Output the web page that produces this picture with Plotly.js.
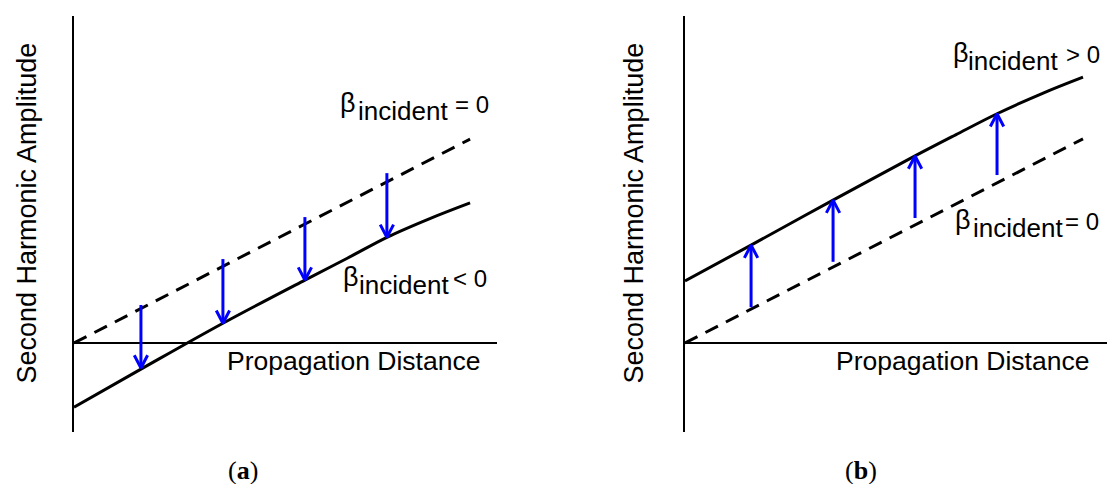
<!DOCTYPE html>
<html>
<head>
<meta charset="utf-8">
<script src="https://cdn.plot.ly/plotly-3.0.1.min.js"></script>
<style>
  html, body { margin: 0; padding: 0; background: #ffffff; }
  #chart { width: 1107px; height: 484px; }
</style>
</head>
<body>
<div id="chart"></div>
<script>
// ---- Panel (a): negative incident nonlinearity lowers the second harmonic ----
const distRefA   = [0, 1.0];
const ampRefA    = [0, 0.515];                                   // β_incident = 0
const distNegA   = [0, 0.169, 0.376, 0.583, 0.69, 0.79, 0.9, 1.0];
const ampNegA    = [-0.162, -0.066, 0.050, 0.159, 0.214, 0.267, 0.315, 0.354]; // β_incident < 0
const arrowXA    = [0.169, 0.376, 0.583, 0.79];
const arrowFromA = [0.096, 0.212, 0.318, 0.429];
const arrowToA   = [-0.063, 0.050, 0.159, 0.267];

// ---- Panel (b): positive incident nonlinearity raises the second harmonic ----
const distRefB   = [0, 1.0];
const ampRefB    = [0, 0.513];                                   // β_incident = 0
const distPosB   = [0, 0.166, 0.372, 0.578, 0.68, 0.784, 0.9, 1.0];
const ampPosB    = [0.156, 0.246, 0.359, 0.470, 0.523, 0.576, 0.628, 0.668]; // β_incident > 0
const arrowXB    = [0.166, 0.372, 0.578, 0.784];
const arrowFromB = [0.090, 0.204, 0.314, 0.422];
const arrowToB   = [0.246, 0.359, 0.470, 0.576];

const yTitle = 'Second Harmonic Amplitude';
const xTitle = 'Propagation Distance';
const betaSymbol = 'β';
const betaSub = 'incident';
const relA = ['= 0', '< 0'];
const relB = ['> 0', '= 0'];
const captions = ['(<b>a</b>)', '(<b>b</b>)'];

// ---- drawing helpers ----
const W = 1107, H = 484;
const px = v => v / W;
const py = v => 1 - v / H;
const SANS = 'Liberation Sans, Arial, sans-serif';
const HEAD_W = 0.0168, HEAD_H = 0.032;

function curve(x, y, xa, ya, dash) {
  return {
    type: 'scatter', mode: 'lines', x: x, y: y, xaxis: xa, yaxis: ya,
    line: { color: '#000000', width: 3, dash: dash ? '14px,9px' : 'solid', shape: 'spline', smoothing: 1 },
    hoverinfo: 'skip', showlegend: false
  };
}

function arrows(xs, from, to, xa, ya) {
  const x = [], y = [];
  xs.forEach((xv, i) => {
    const dir = to[i] > from[i] ? 1 : -1;
    x.push(xv, xv, null, xv - HEAD_W, xv, xv + HEAD_W, null);
    y.push(from[i], to[i], null, to[i] - dir * HEAD_H, to[i], to[i] - dir * HEAD_H, null);
  });
  return {
    type: 'scatter', mode: 'lines', x: x, y: y, xaxis: xa, yaxis: ya,
    line: { color: '#0000ff', width: 3 }, hoverinfo: 'skip', showlegend: false
  };
}

function txt(x, y, text, opts) {
  return Object.assign({
    xref: 'paper', yref: 'paper', x: x, y: y, text: text, showarrow: false,
    xanchor: 'left', yanchor: 'bottom', font: { family: SANS, size: 26, color: '#000000' }
  }, opts || {});
}

// β label: symbol, lowered subscript word, relation
function betaLabel(inkLeft, baseline, subLeft, relLeft, rel) {
  return [
    txt(px(inkLeft - 2), py(baseline + 7), betaSymbol, { font: { family: SANS, size: 27, color: '#000000' } }),
    txt(px(subLeft - 2), py(baseline + 15), betaSub),
    txt(px(relLeft - 2), py(baseline + 7), rel, { font: { family: SANS, size: 24, color: '#000000' } })
  ];
}

const traces = [
  curve(distRefA, ampRefA, 'x', 'y', true),
  curve(distNegA, ampNegA, 'x', 'y', false),
  arrows(arrowXA, arrowFromA, arrowToA, 'x', 'y'),
  curve(distRefB, ampRefB, 'x2', 'y2', true),
  curve(distPosB, ampPosB, 'x2', 'y2', false),
  arrows(arrowXB, arrowFromB, arrowToB, 'x2', 'y2')
];

const xAxisStyle = {
  showgrid: false, zeroline: false, showline: false, showticklabels: false, ticks: '', fixedrange: true
};
const yAxisStyle = {
  showgrid: false, showticklabels: false, ticks: '', fixedrange: true,
  showline: true, linecolor: '#000000', linewidth: 2,
  zeroline: true, zerolinecolor: '#000000', zerolinewidth: 2
};

const captionFont = { family: 'Liberation Serif, serif', size: 26, color: '#000000' };

const annotations = [].concat(
  [
    txt(px(26), py(213.5), yTitle, { xanchor: 'center', yanchor: 'middle', textangle: -90, font: { family: SANS, size: 27, color: '#000000' } }),
    txt(px(633), py(213.5), yTitle, { xanchor: 'center', yanchor: 'middle', textangle: -90, font: { family: SANS, size: 27, color: '#000000' } }),
    txt(px(225), py(371 + 7), xTitle, { font: { family: SANS, size: 26.5, color: '#000000' } }),
    txt(px(834), py(371 + 7), xTitle, { font: { family: SANS, size: 26.5, color: '#000000' } }),
    txt(px(243), py(487), captions[0], { xanchor: 'center', font: captionFont }),
    txt(px(861), py(487), captions[1], { xanchor: 'center', font: captionFont })
  ],
  betaLabel(340, 113, 358, 455, relA[0]),
  betaLabel(343, 287, 359, 453, relA[1]),
  betaLabel(953, 63, 968, 1066, relB[0]),
  betaLabel(955, 230, 973, 1065, relB[1])
);

const layout = {
  width: W, height: H,
  margin: { l: 0, r: 0, t: 0, b: 0 },
  paper_bgcolor: '#ffffff', plot_bgcolor: '#ffffff',
  showlegend: false,
  xaxis:  Object.assign({}, xAxisStyle, { domain: [px(74), px(497)], range: [0, 1.068], anchor: 'y' }),
  yaxis:  Object.assign({}, yAxisStyle, { domain: [py(432), py(16)], range: [-0.2247, 0.8258], anchor: 'x' }),
  xaxis2: Object.assign({}, xAxisStyle, { domain: [px(685), 1.0], range: [0, 1.0603], anchor: 'y2' }),
  yaxis2: Object.assign({}, yAxisStyle, { domain: [py(432), py(16)], range: [-0.2236, 0.8216], anchor: 'x2' }),
  annotations: annotations
};

Plotly.newPlot('chart', traces, layout, { staticPlot: true, displayModeBar: false });
</script>
</body>
</html>
